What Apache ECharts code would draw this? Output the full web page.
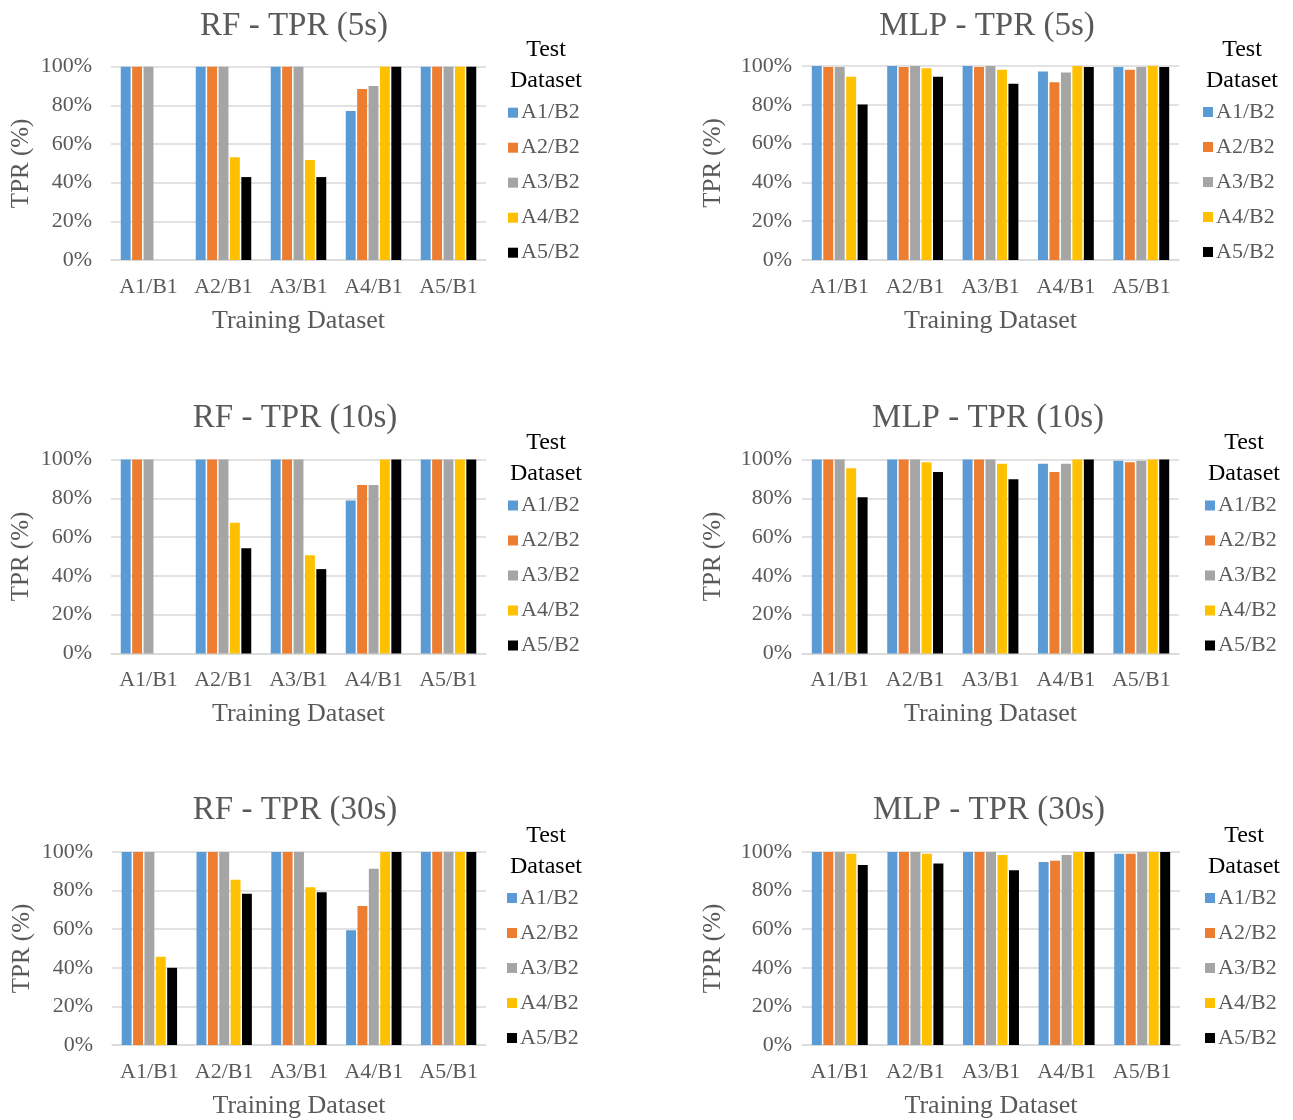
<!DOCTYPE html>
<html><head><meta charset="utf-8">
<script src="https://cdn.jsdelivr.net/npm/echarts@6/dist/echarts.min.js"></script>
<style>html,body{margin:0;padding:0;background:#fff}#c{width:1293px;height:1120px}</style>
</head><body><div id="c"></div>
<script>
const categories = ['A1/B1','A2/B1','A3/B1','A4/B1','A5/B1'];
const testSets = ['A1/B2','A2/B2','A3/B2','A4/B2','A5/B2'];
const colors = ['#5B9BD5','#ED7D31','#A5A5A5','#FFC000','#000000'];
const titles = ['RF - TPR (5s)','MLP - TPR (5s)','RF - TPR (10s)','MLP - TPR (10s)','RF - TPR (30s)','MLP - TPR (30s)'];

// values per test dataset, across training categories
const rf5 = [
  [100,100,100,77.1,100],
  [100,100,100,88.4,100],
  [100,100,100,90.0,100],
  [0,53.1,51.7,100,100],
  [0,42.9,42.9,100,100]
];
const mlp5 = [
  [100,100,100,97.2,99.5],
  [99.5,99.5,99.5,91.6,98.1],
  [99.5,100,100,96.6,99.5],
  [94.5,98.8,98.1,100,100],
  [80.2,94.5,90.9,99.5,99.5]
];
const rf10 = [
  [100,100,100,78.9,100],
  [100,100,100,86.8,100],
  [100,100,100,86.8,100],
  [0,67.4,50.7,100,100],
  [0,54.3,43.5,100,100]
];
const mlp10 = [
  [100,100,100,97.8,99.3],
  [100,100,100,93.5,98.6],
  [100,100,100,97.8,99.3],
  [95.5,98.6,97.8,100,100],
  [80.6,93.5,89.8,100,100]
];
const rf30 = [
  [100,100,100,59.5,100],
  [100,100,100,72.0,100],
  [100,100,100,91.3,100],
  [45.7,85.6,81.8,100,100],
  [40.0,78.4,79.1,100,100]
];
const mlp30 = [
  [100,100,100,94.8,99.1],
  [100,100,100,95.5,99.1],
  [100,100,100,98.4,100],
  [99.1,99.1,98.4,100,100],
  [93.3,94.0,90.5,100,100]
];
const datasets = [rf5, mlp5, rf10, mlp10, rf30, mlp30];

const FONT = '"Liberation Serif", "Times New Roman", serif';
const TXT = '#595959';
const GRIDC = '#d9d9d9';

// layout of each panel
const panels = [
  {left:111, top:66.7, width:375, height:193.3, titleX:289, titleY:5, legX:503, testX:541, ym:19, yGap:77},
  {left:802, top:66, width:377, height:194, titleX:982, titleY:5, legX:1198, testX:1237, ym:10, yGap:76},
  {left:111, top:459.5, width:375, height:194, titleX:290, titleY:397, legX:503, testX:541, ym:19, yGap:77},
  {left:802, top:459.5, width:377, height:194, titleX:983, titleY:397, legX:1200, testX:1239, ym:10, yGap:76},
  {left:112, top:852, width:374, height:193, titleX:290, titleY:789, legX:502, testX:541, ym:19, yGap:77},
  {left:802, top:852, width:378, height:193.5, titleX:984, titleY:789, legX:1200, testX:1239, ym:10, yGap:76}
];

const option = {
  animation:false,
  backgroundColor:'#fff',
  title:[], grid:[], xAxis:[], yAxis:[], legend:[], series:[]
};

panels.forEach((p,i)=>{
  option.title.push({text:titles[i], left:p.titleX, top:p.titleY, textAlign:'center',
    textStyle:{fontFamily:FONT, fontSize:33, fontWeight:'normal', color:TXT}});
  option.title.push({text:'Test\nDataset', left:p.testX, top:p.top-37, textAlign:'center',
    textStyle:{fontFamily:FONT, fontSize:24, fontWeight:'normal', color:'#000', lineHeight:31}});
  option.grid.push({left:p.left, top:p.top, width:p.width, height:p.height, containLabel:false});
  option.xAxis.push({type:'category', gridIndex:i, data:categories,
    name:'Training Dataset', nameLocation:'middle', nameGap:48,
    nameTextStyle:{fontFamily:FONT, fontSize:26, color:TXT},
    axisLine:{lineStyle:{color:GRIDC, width:1.5}}, axisTick:{show:false},
    axisLabel:{interval:0, fontFamily:FONT, fontSize:22, color:TXT, margin:16}});
  option.yAxis.push({type:'value', gridIndex:i, min:0, max:100, interval:20,
    name:'TPR (%)', nameLocation:'middle', nameGap:p.yGap, nameRotate:90,
    nameTextStyle:{fontFamily:FONT, fontSize:25, color:TXT},
    axisLine:{show:false}, axisTick:{show:false},
    splitLine:{lineStyle:{color:GRIDC, width:1.5}},
    axisLabel:{fontFamily:FONT, fontSize:22, color:TXT, margin:p.ym, formatter:'{value}%'}});
  option.legend.push({orient:'vertical', left:p.legX, top:p.top+30, itemWidth:10, itemHeight:10,
    itemGap:13, icon:'rect', data:testSets,
    textStyle:{fontFamily:FONT, fontSize:22, color:TXT, lineHeight:22, padding:[0,0,0,-2]}});
  datasets[i].forEach((vals,k)=>{
    option.series.push({type:'bar', name:testSets[k], xAxisIndex:i, yAxisIndex:i,
      data:vals, barGap:'15%', barCategoryGap:'26%',
      itemStyle:{color:colors[k]}});
  });
});

const chart = echarts.init(document.getElementById('c'), null, {renderer:'canvas'});
chart.setOption(option);
</script></body></html>
